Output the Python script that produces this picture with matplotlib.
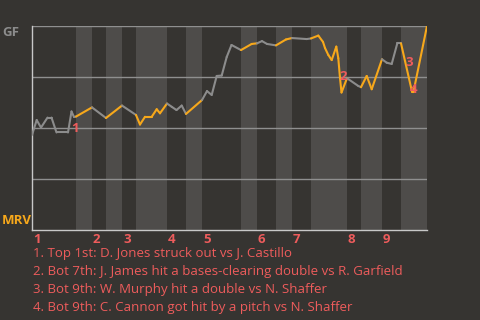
import matplotlib
matplotlib.use("Agg")
import matplotlib.pyplot as plt

# half-inning boundaries along the game axis (top 1st .. bottom 9th)
half_edges = [0, 44, 60, 74, 90, 104, 135, 154, 170, 209, 225, 244, 260, 279, 315, 329, 350, 369, 395]
innings = ["1", "2", "3", "4", "5", "6", "7", "8", "9"]

# GF win probability after each play
play_x = [0, 4.7, 9, 15.5, 19.5, 24.5, 36, 39.5, 42, 44, 60, 74, 90, 104, 108, 113, 119.7,
          124.7, 128, 135, 139.7, 144.5, 149.7, 154, 170, 175, 179.7, 184.7, 189.7, 194.7,
          199.5, 209, 219.7, 225, 230, 235, 244, 254, 260, 274.7, 279, 286.3, 291, 293,
          296.3, 299.7, 304.3, 306.3, 308, 309.5, 315, 326.3, 329, 334.7, 339.7, 350, 354.7,
          359.7, 365.3, 369, 380, 381.5, 395]
win_prob = [0.466, 0.539, 0.502, 0.551, 0.551, 0.478, 0.478, 0.581, 0.554, 0.556, 0.601,
            0.549, 0.610, 0.564, 0.517, 0.555, 0.555, 0.592, 0.572, 0.620, 0.604, 0.588,
            0.610, 0.569, 0.637, 0.681, 0.662, 0.755, 0.757, 0.848, 0.907, 0.882, 0.912,
            0.915, 0.926, 0.912, 0.905, 0.934, 0.941, 0.936, 0.939, 0.953, 0.922, 0.892,
            0.858, 0.833, 0.899, 0.842, 0.745, 0.674, 0.744, 0.706, 0.700, 0.755, 0.690,
            0.837, 0.820, 0.814, 0.915, 0.915, 0.678, 0.678, 1.0]

# key events
event_x = [43, 311, 377, 382]
event_y = [0.50, 0.75, 0.82, 0.69]
event_text = [
    "1. Top 1st: D. Jones struck out vs J. Castillo",
    "2. Bot 7th: J. James hit a bases-clearing double vs R. Garfield",
    "3. Bot 9th: W. Murphy hit a double vs N. Shaffer",
    "4. Bot 9th: C. Cannon got hit by a pitch vs N. Shaffer",
]

bg = "#363431"
band = "#4e4c4a"
orange = "#f7a81b"
gray = "#8c8c8c"
red = "#ee5c5c"
plt.rcParams["font.family"] = ["Open Sans", "DejaVu Sans"]

fig = plt.figure(figsize=(4.8, 3.2), dpi=100, facecolor=bg)
ax = fig.add_axes([32 / 480, 90 / 320, 395 / 480, 204 / 320])
ax.set_facecolor(bg)
ax.set_xlim(0, 395)
ax.set_ylim(0, 1)

# shade bottom halves
for i in range(1, len(half_edges) - 1, 2):
    ax.axvspan(half_edges[i], half_edges[i + 1], color=band, lw=0, zorder=0)

for y in [0.25, 0.5, 0.75, 1.0]:
    ax.axhline(y, color="#8f8f8f", lw=1, zorder=1)

# line segments: orange while GF bats (bottom halves)
for i in range(len(play_x) - 1):
    mid = (play_x[i] + play_x[i + 1]) / 2
    k = sum(1 for e in half_edges[1:-1] if e <= mid)
    c = orange if k % 2 == 1 else gray
    ax.plot(play_x[i:i + 2], win_prob[i:i + 2], color=c, lw=1.5,
            solid_capstyle="round", zorder=3)

for j, (x, y) in enumerate(zip(event_x, event_y)):
    ax.text(x, y, str(j + 1), color=red, fontsize=9.5, fontweight="bold",
            ha="center", va="center", zorder=4)

for s in ["top", "right"]:
    ax.spines[s].set_visible(False)
for s in ["left", "bottom"]:
    ax.spines[s].set_color("#c8c8c8")
    ax.spines[s].set_linewidth(1)
ax.set_xticks([])
ax.set_yticks([])

# inning labels at the start of each inning
for n, lab in enumerate(innings):
    ax.text(half_edges[2 * n] + 1, -0.045, lab, color=red, fontsize=9.5,
            fontweight="bold", ha="left", va="center", clip_on=False)

fig.text(2 / 480, 1 - 33 / 320, "GF", color=gray, fontsize=9.5, fontweight="bold",
         ha="left", va="center")
fig.text(2 / 480, 1 - 221 / 320, "MRV", color=orange, fontsize=9.5, fontweight="bold",
         ha="left", va="center")

for i, t in enumerate(event_text):
    fig.text(33 / 480, 1 - (254 + 18 * i) / 320, t, color=red, fontsize=9.5,
             ha="left", va="center")

fig.savefig("out.png", dpi=100, facecolor=bg)
